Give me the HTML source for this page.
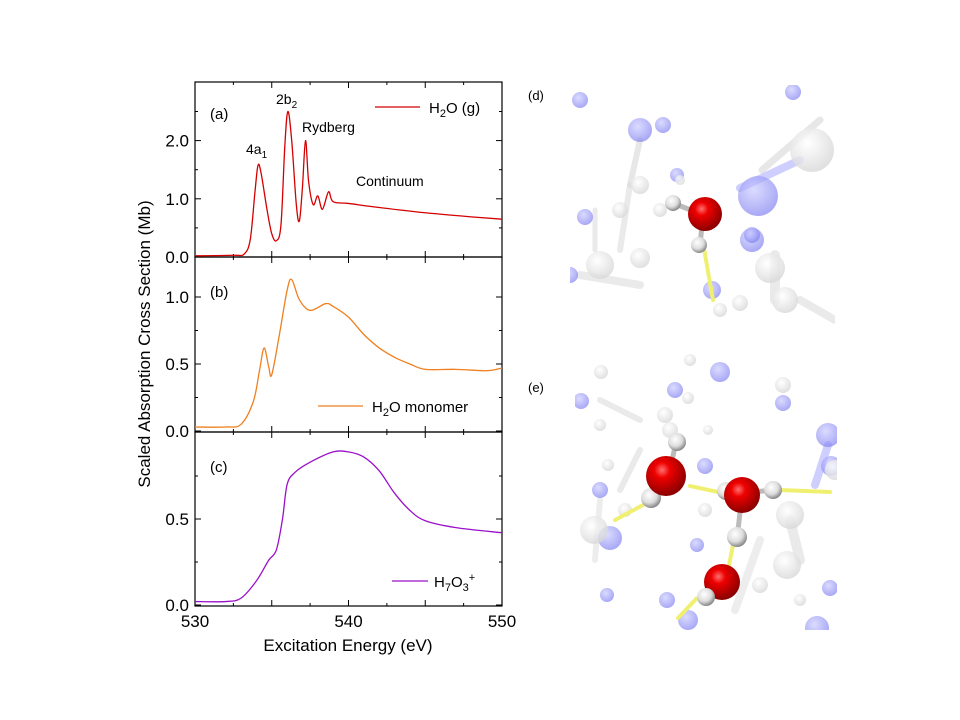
<!DOCTYPE html>
<html><head><meta charset="utf-8"><style>
html,body{margin:0;padding:0;background:#fff;}
svg{display:block;font-family:"Liberation Sans",sans-serif;}
</style></head><body>
<svg id="s" width="960" height="720" xmlns="http://www.w3.org/2000/svg">
<defs>
<radialGradient id="red" cx="0.4" cy="0.35" r="0.65"><stop offset="0" stop-color="#ff7070"/><stop offset="0.3" stop-color="#e00"/><stop offset="1" stop-color="#8a0000"/></radialGradient>
<radialGradient id="wht" cx="0.4" cy="0.35" r="0.65"><stop offset="0" stop-color="#fff"/><stop offset="0.6" stop-color="#ddd"/><stop offset="1" stop-color="#888"/></radialGradient>
<radialGradient id="blu" cx="0.4" cy="0.35" r="0.65"><stop offset="0" stop-color="#c8c8ff"/><stop offset="1" stop-color="#7a7af0"/></radialGradient>
<radialGradient id="gry" cx="0.4" cy="0.35" r="0.65"><stop offset="0" stop-color="#fff"/><stop offset="1" stop-color="#d8d8d8"/></radialGradient>
</defs>
<g id="plot"></g>
<g id="img"></g>
<text x="528" y="100" font-size="13">(d)</text>
<text x="528" y="392" font-size="13">(e)</text>
</svg>
<script>
const NS="http://www.w3.org/2000/svg";
const P=document.getElementById('plot'), I=document.getElementById('img');
function el(t,a,p,txt){const e=document.createElementNS(NS,t);for(const k in a)e.setAttribute(k,a[k]);if(txt!==undefined)e.innerHTML=txt;(p||P).appendChild(e);return e;}
const X0=195,X1=502;const xp=e=>X0+(e-530)*(X1-X0)/20;
const panels=[{top:82,bot:257,z:257,s:58.2,ticks:[[0,'0.0'],[1,'1.0'],[2,'2.0']],minor:[0.5,1.5,2.5]},
{top:257,bot:432,z:431,s:134,ticks:[[0,'0.0'],[0.5,'0.5'],[1,'1.0']],minor:[0.25,0.75]},
{top:432,bot:606,z:605,s:172,ticks:[[0,'0.0'],[0.5,'0.5']],minor:[0.25,0.75]}];
function path(pts,p,col){
 const q=pts.map(([e,v])=>[xp(e),p.z-v*p.s]);
 let d='M'+q[0][0]+','+q[0][1];
 for(let i=0;i<q.length-1;i++){const a=q[Math.max(0,i-1)],b=q[i],c=q[i+1],dd=q[Math.min(q.length-1,i+2)];
  d+=` C${b[0]+(c[0]-a[0])/6},${b[1]+(c[1]-a[1])/6} ${c[0]-(dd[0]-b[0])/6},${c[1]-(dd[1]-b[1])/6} ${c[0]},${c[1]}`;}
 el('path',{d,fill:'none',stroke:col,'stroke-width':1.3});
}
const A=[[530,0.02],[532.5,0.03],[533.2,0.05],[533.6,0.3],[533.9,1.1],[534.1,1.57],[534.3,1.45],[534.7,0.8],[535.0,0.4],[535.3,0.28],[535.6,0.55],[535.85,1.9],[536.05,2.5],[536.3,2.0],[536.6,0.9],[536.8,0.62],[537.0,1.2],[537.2,2.0],[537.4,1.3],[537.7,0.9],[538.0,1.05],[538.3,0.82],[538.7,1.12],[539.0,0.95],[540,0.92],[542,0.85],[545,0.76],[548,0.69],[550,0.65]];
const B=[[530,0.03],[532,0.03],[533,0.05],[533.8,0.22],[534.2,0.45],[534.5,0.62],[534.8,0.48],[535.0,0.42],[535.5,0.72],[536,1.05],[536.3,1.13],[536.8,0.98],[537.5,0.9],[538.5,0.95],[539,0.93],[540,0.85],[541,0.72],[542,0.62],[543,0.55],[544,0.5],[545,0.46],[547,0.46],[549,0.45],[550,0.47]];
const C=[[530,0.02],[532,0.02],[533,0.04],[534,0.14],[534.8,0.26],[535.3,0.32],[535.7,0.5],[536,0.7],[536.5,0.77],[537.5,0.83],[539,0.89],[540,0.89],[541,0.86],[542,0.78],[543,0.65],[544,0.55],[545,0.49],[547,0.45],[550,0.42]];
panels.forEach((p,i)=>{
 el('rect',{x:X0,y:p.top,width:X1-X0,height:p.bot-p.top,fill:'none',stroke:'#000','stroke-width':1.2});
 p.ticks.forEach(([v,l])=>{const y=p.z-v*p.s;el('line',{x1:X0,x2:X0+6,y1:y,y2:y,stroke:'#000'});el('line',{x1:X1,x2:X1-6,y1:y,y2:y,stroke:'#000'});
  el('text',{x:X0-6,y:y+6,'font-size':17,'text-anchor':'end'},null,l);});
 p.minor.forEach(v=>{const y=p.z-v*p.s;if(y>p.top+2){el('line',{x1:X0,x2:X0+3,y1:y,y2:y,stroke:'#000'});el('line',{x1:X1,x2:X1-3,y1:y,y2:y,stroke:'#000'});}});
 for(let e=532.5;e<550;e+=2.5){const x=xp(e),L=(e%5==0)?6:3;
  el('line',{x1:x,x2:x,y1:p.bot,y2:p.bot-L,stroke:'#000'});el('line',{x1:x,x2:x,y1:p.top,y2:p.top+L,stroke:'#000'});}
});
[530,540,550].forEach(e=>el('text',{x:xp(e),y:627,'font-size':17,'text-anchor':'middle'},null,e));
el('text',{x:348,y:651,'font-size':17,'text-anchor':'middle'},null,'Excitation Energy (eV)');
el('text',{x:150,y:344,'font-size':17,'text-anchor':'middle',transform:'rotate(-90 150 344)'},null,'Scaled Absorption Cross Section (Mb)');
path(A,panels[0],'#d40000');path(B,panels[1],'#f08020');path(C,panels[2],'#9a10c8');
el('text',{x:210,y:119,'font-size':15},null,'(a)');
el('text',{x:210,y:297,'font-size':15},null,'(b)');
el('text',{x:210,y:472,'font-size':15},null,'(c)');
el('text',{x:246,y:154,'font-size':14},null,'4a<tspan dy="4" font-size="10">1</tspan>');
el('text',{x:276,y:104,'font-size':14},null,'2b<tspan dy="4" font-size="10">2</tspan>');
el('text',{x:302,y:132,'font-size':14},null,'Rydberg');
el('text',{x:356,y:186,'font-size':14},null,'Continuum');
el('line',{x1:375,x2:420,y1:107,y2:107,stroke:'#d40000','stroke-width':1.3});
el('text',{x:429,y:113,'font-size':15},null,'H<tspan dy="4" font-size="11">2</tspan><tspan dy="-4">O (g)</tspan>');
el('line',{x1:318,x2:363,y1:406,y2:406,stroke:'#f08020','stroke-width':1.3});
el('text',{x:372,y:412,'font-size':15},null,'H<tspan dy="4" font-size="11">2</tspan><tspan dy="-4">O monomer</tspan>');
el('line',{x1:392,x2:428,y1:581,y2:581,stroke:'#9a10c8','stroke-width':1.3});
el('text',{x:434,y:587,'font-size':15},null,'H<tspan dy="4" font-size="11">7</tspan><tspan dy="-4">O</tspan><tspan dy="4" font-size="11">3</tspan><tspan dy="-10" font-size="11">+</tspan>');
// images
function c(x,y,r,f,op){el('circle',{cx:x,cy:y,r,fill:'url(#'+f+')',opacity:op||1},I);}
function b(x1,y1,x2,y2,w,col,op,dash){el('line',{x1,y1,x2,y2,stroke:col,'stroke-width':w,opacity:op||1,'stroke-dasharray':dash||'none','stroke-linecap':'round'},I);}
// (d) region 570-835 x 85-348
el('clipPath',{id:'cd'},I).innerHTML='<rect x="570" y="85" width="265" height="263"/>';
el('clipPath',{id:'ce'},I).innerHTML='<rect x="575" y="345" width="262" height="285"/>';
const gd=el('g',{'clip-path':'url(#cd)'},I);const ge=el('g',{'clip-path':'url(#ce)'},I);
function C2(g,x,y,r,f,op){el('circle',{cx:x,cy:y,r,fill:'url(#'+f+')',opacity:op||1},g);}
function B2(g,x1,y1,x2,y2,w,col,op,dash){el('line',{x1,y1,x2,y2,stroke:col,'stroke-width':w,opacity:op||1,'stroke-dasharray':dash||'none','stroke-linecap':'round'},g);}
// d background
B2(gd,640,140,630,185,6,'#ddd',0.7);B2(gd,630,185,620,250,6,'#ddd',0.6);B2(gd,762,170,820,120,7,'#ddd',0.7);
B2(gd,580,275,640,285,8,'#ddd',0.6);B2(gd,775,255,775,300,10,'#ddd',0.6);B2(gd,740,188,800,160,8,'#bbf',0.7);
B2(gd,800,300,835,320,8,'#ddd',0.6);B2(gd,595,210,595,250,5,'#ddd',0.6);
[[580,100,8],[640,130,12],[663,125,8],[677,175,7],[758,196,20],[752,240,12],[585,217,8],[752,235,8],[712,290,9],[793,92,8],[570,275,8]].forEach(a=>C2(gd,a[0],a[1],a[2],'blu',0.65));
[[812,150,22],[620,210,8],[770,268,15],[640,258,10],[600,265,14],[785,300,13],[740,303,8],[660,210,7],[680,180,5],[640,185,9],[720,310,7]].forEach(a=>C2(gd,a[0],a[1],a[2],'gry',0.8));
B2(gd,703,243,713,300,4,'#f0f070',1,'2 1.5');
B2(gd,673,203,703,215,5,'#bbb');B2(gd,703,215,700,245,5,'#bbb');
C2(gd,673,203,8,'wht');C2(gd,699,245,8,'wht');C2(gd,705,214,17,'red');
// e background
B2(ge,600,400,640,420,6,'#ddd',0.6);B2(ge,790,520,800,560,10,'#ddd',0.6);B2(ge,760,540,735,610,8,'#ddd',0.5);B2(ge,828,445,815,485,8,'#bbf',0.7);
B2(ge,640,450,620,490,6,'#ddd',0.6);B2(ge,600,500,595,560,6,'#ddd',0.5);
[[581,401,8],[720,372,10],[783,403,8],[675,390,8],[828,435,12],[831,466,10],[705,466,8],[600,490,8],[610,538,12],[697,545,7],[667,600,8],[607,595,7],[817,628,12],[830,588,8],[688,620,10]].forEach(a=>C2(ge,a[0],a[1],a[2],'blu',0.65));
[[601,372,7],[690,360,6],[783,385,8],[665,415,8],[688,398,6],[670,430,8],[600,425,6],[608,465,6],[790,515,14],[787,565,14],[625,510,7],[705,510,7],[708,430,5],[594,530,14],[760,585,8],[800,600,6],[835,470,10]].forEach(a=>C2(ge,a[0],a[1],a[2],'gry',0.8));
B2(ge,615,520,643,505,4,'#f0f070',1,'2 1.5');B2(ge,690,486,718,492,4,'#f0f070',1,'2 1.5');
B2(ge,780,490,830,492,4,'#f0f070',1,'2 1.5');B2(ge,733,545,728,570,4,'#f0f070',1,'2 1.5');B2(ge,678,618,697,598,4,'#f0f070',1,'2 1.5');
B2(ge,670,470,676,442,5,'#bbb');B2(ge,668,478,651,498,5,'#bbb');B2(ge,745,493,772,490,5,'#bbb');B2(ge,742,495,738,530,5,'#bbb');B2(ge,720,580,706,595,5,'#bbb');
C2(ge,677,442,9,'wht');C2(ge,651,498,10,'wht');C2(ge,666,476,20,'red');C2(ge,726,491,9,'wht');C2(ge,773,490,9,'wht');C2(ge,742,495,18,'red');C2(ge,737,537,10,'wht');C2(ge,722,582,18,'red');C2(ge,706,597,9,'wht');
</script>
</body></html>
